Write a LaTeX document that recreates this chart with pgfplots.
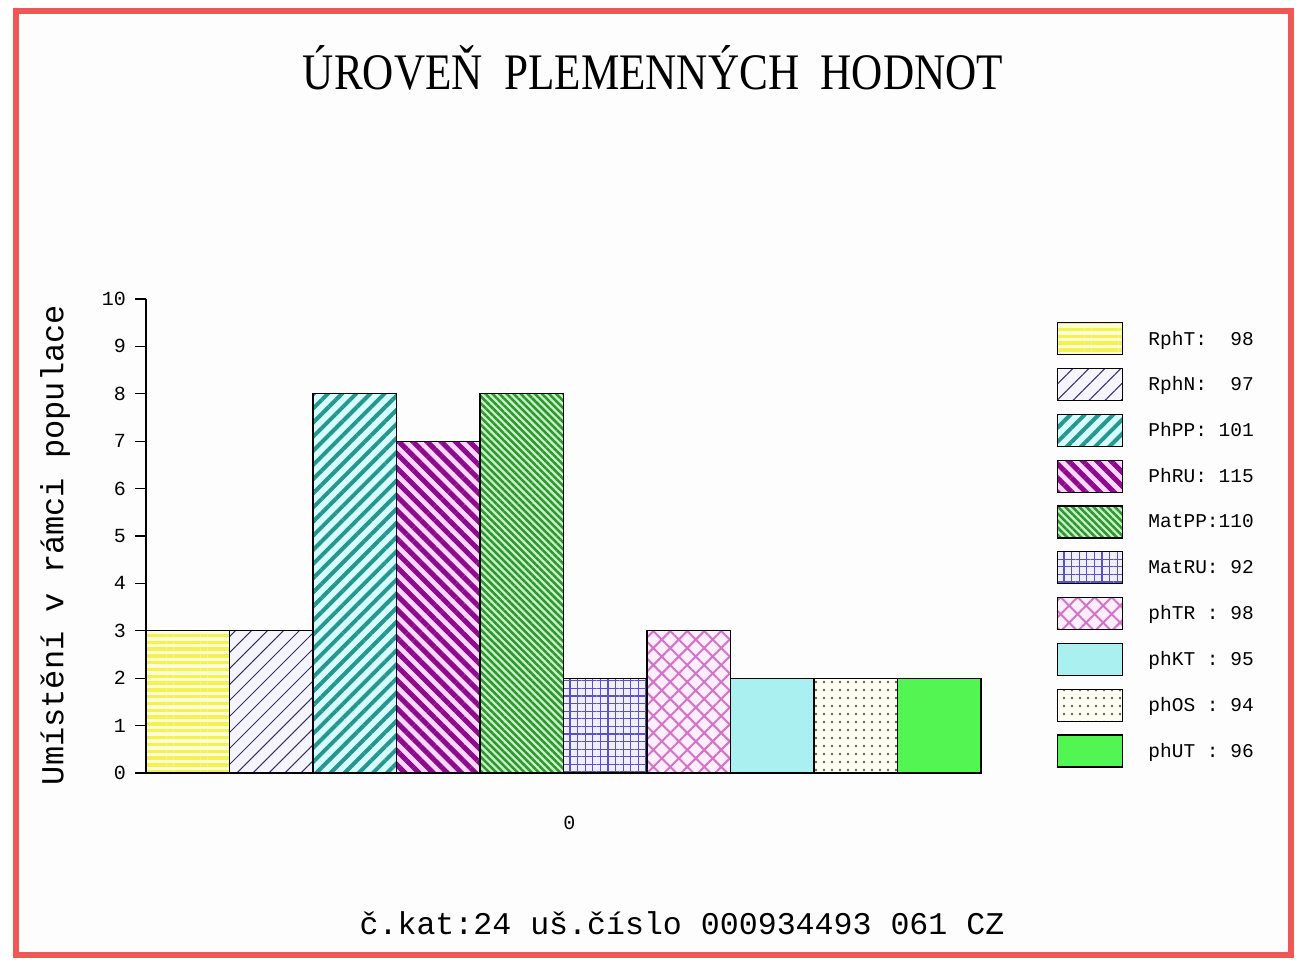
\documentclass[border=0pt]{standalone}
\usepackage{fontspec}
\setmainfont{Liberation Serif}
\newfontfamily\mono{Liberation Mono}
\usepackage{pgfplots}
\pgfplotsset{compat=1.18}
\usetikzlibrary{patterns.meta}
\definecolor{borderred}{RGB}{240,86,86}
\definecolor{ylbg}{RGB}{255,255,215}
\definecolor{ylln}{RGB}{242,242,80}
\definecolor{nvbg}{RGB}{246,244,255}
\definecolor{nvln}{RGB}{50,50,100}
\definecolor{tlbg}{RGB}{215,255,255}
\definecolor{tlln}{RGB}{38,150,145}
\definecolor{pubg}{RGB}{255,215,255}
\definecolor{puln}{RGB}{140,10,140}
\definecolor{gnbg}{RGB}{200,240,200}
\definecolor{gnln}{RGB}{45,150,45}
\definecolor{blbg}{RGB}{238,238,255}
\definecolor{blln}{RGB}{90,80,200}
\definecolor{pkbg}{RGB}{255,238,255}
\definecolor{pkln}{RGB}{210,115,200}
\definecolor{cyfl}{RGB}{170,240,240}
\definecolor{dtbg}{RGB}{255,255,244}
\definecolor{dtln}{RGB}{95,95,85}
\definecolor{grfl}{RGB}{82,245,82}
\begin{document}
\begin{tikzpicture}[x=1pt,y=1pt]
\useasboundingbox (0,0) rectangle (1307,962);
\fill[white] (0,0) rectangle (1307,962);
\draw[draw=borderred, line width=6pt, fill={rgb,255:red,253;green,253;blue,253}] (16,951) rectangle (1291,7);
\node[anchor=base, inner sep=0pt] at (653,872) {\resizebox{700pt}{44pt}{ÚROVEŇ\ \ PLEMENNÝCH\ \ HODNOT}};
\node[anchor=base, inner sep=0pt] at (682,28) {\mono\fontsize{31.6}{34}\selectfont č.kat:24 uš.číslo 000934493 061 CZ};
\begin{axis}[
  at={(146pt,189pt)}, anchor=south west,
  scale only axis, width=835pt, height=474pt,
  xmin=-0.5, xmax=9.5, ymin=0, ymax=10,
  ybar, bar width=83.5pt, clip=false,
  axis lines*=left,
  axis line style={line width=1.5pt, black},
  x axis line style={line width=2.5pt},
  tick align=outside, major tick length=11pt,
  ytick={0,1,...,10},
  ytick style={line width=1.2pt, black},
  xtick={4.57}, xticklabels={0},
  xtick style={draw=none},
  /pgf/number format/assume math mode=true,
  ticklabel style={font=\mono\fontsize{20}{22}\selectfont, inner sep=0pt},
  yticklabel style={xshift=-9pt},
  xticklabel style={yshift=-32pt},
  ylabel={Umístění v rámci populace},
  ylabel style={font=\mono\fontsize{32}{34}\selectfont, at={(axis description cs:-0.109,0.481)}, anchor=center, inner sep=0pt},
  every axis plot post/.append style={bar shift=0pt, draw=black, line width=1.3pt,
     legend image code/.code={\draw[##1] (0pt,-16pt) rectangle (65pt,16pt);}},
  legend style={at={(axis description cs:1.091,0.9515)}, anchor=north west, draw=none, fill=none,
     inner sep=0pt, nodes={inner sep=0pt}, row sep=12.5pt,
     font=\mono\fontsize{19.5}{21}\selectfont,
     /tikz/every odd column/.append style={column sep=25pt}},
  legend cell align=left,
]
\addplot[preaction={fill=ylbg}, pattern={Lines[angle=0,distance=6.8pt,line width=3.4pt]}, pattern color=ylln] coordinates {(0,3)};
\addlegendentry{RphT:~~98}
\addplot[preaction={fill=nvbg}, pattern={Lines[angle=45,distance=11.3pt,line width=1pt]}, pattern color=nvln] coordinates {(1,3)};
\addlegendentry{RphN:~~97}
\addplot[preaction={fill=tlbg}, pattern={Lines[angle=45,distance=10pt,line width=4pt]}, pattern color=tlln] coordinates {(2,8)};
\addlegendentry{PhPP:~101}
\addplot[preaction={fill=pubg}, pattern={Lines[angle=-45,distance=10pt,line width=5pt]}, pattern color=puln] coordinates {(3,7)};
\addlegendentry{PhRU:~115}
\addplot[preaction={fill=gnbg}, pattern={Lines[angle=-45,distance=5pt,line width=2.5pt]}, pattern color=gnln] coordinates {(4,8)};
\addlegendentry{MatPP:110}
\addplot[preaction={fill=blbg}, pattern={Hatch[angle=0,distance=7.6pt,line width=1.3pt]}, pattern color=blln] coordinates {(5,2)};
\addlegendentry{MatRU:~92}
\addplot[preaction={fill=pkbg}, pattern={Hatch[angle=45,distance=12pt,line width=2pt]}, pattern color=pkln] coordinates {(6,3)};
\addlegendentry{phTR~:~98}
\addplot[fill=cyfl] coordinates {(7,2)};
\addlegendentry{phKT~:~95}
\addplot[preaction={fill=dtbg}, pattern={Dots[distance=8pt,radius=1.3pt]}, pattern color=dtln] coordinates {(8,2)};
\addlegendentry{phOS~:~94}
\addplot[fill=grfl] coordinates {(9,2)};
\addlegendentry{phUT~:~96}
\end{axis}
\end{tikzpicture}
\end{document}
